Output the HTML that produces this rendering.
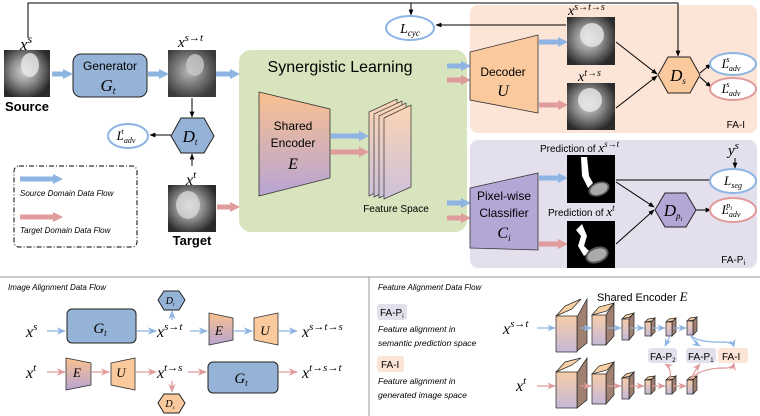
<!DOCTYPE html>
<html><head><meta charset="utf-8"><style>
html,body{margin:0;padding:0;background:#fff;}
svg{display:block;font-family:"Liberation Sans",sans-serif;}
.m{font-family:"Liberation Serif",serif;font-style:italic;}
.it{font-style:italic;}
</style></head><body>
<svg width="760" height="416" viewBox="0 0 760 416" xmlns="http://www.w3.org/2000/svg">
<defs>
<marker id="bh" viewBox="0 0 10 10" refX="1" refY="5" markerWidth="2" markerHeight="2" orient="auto"><path d="M0,0L10,5L0,10z" fill="#8DB4E2"/></marker>
<marker id="ph" viewBox="0 0 10 10" refX="1" refY="5" markerWidth="2" markerHeight="2" orient="auto"><path d="M0,0L10,5L0,10z" fill="#E09C9C"/></marker>
<marker id="k" viewBox="0 0 10 10" refX="9" refY="5" markerWidth="6" markerHeight="6" orient="auto"><path d="M0,1L10,5L0,9z" fill="#000"/></marker>
<marker id="sb" viewBox="0 0 10 10" refX="9" refY="5" markerWidth="7" markerHeight="7" orient="auto"><path d="M0,1L10,5L0,9L3,5z" fill="#8DB4E2"/></marker>
<marker id="sp" viewBox="0 0 10 10" refX="9" refY="5" markerWidth="7" markerHeight="7" orient="auto"><path d="M0,1L10,5L0,9L3,5z" fill="#E09C9C"/></marker>
<linearGradient id="enc" x1="0" y1="0" x2="0" y2="1"><stop offset="0" stop-color="#FAC08F"/><stop offset="1" stop-color="#B7A5D3"/></linearGradient>
<linearGradient id="fs" x1="0" y1="0" x2="0" y2="1"><stop offset="0" stop-color="#FCD5B4"/><stop offset="1" stop-color="#CCC0DA"/></linearGradient>
<linearGradient id="blk" x1="0" y1="0" x2="0" y2="1"><stop offset="0" stop-color="#F6CDA8"/><stop offset="1" stop-color="#C6B8D8"/></linearGradient>
<radialGradient id="mri" cx="0.45" cy="0.45" r="0.6"><stop offset="0" stop-color="#d8d8d8"/><stop offset="0.5" stop-color="#8a8a8a"/><stop offset="1" stop-color="#2a2a2a"/></radialGradient>
<radialGradient id="mri2" cx="0.45" cy="0.45" r="0.6"><stop offset="0" stop-color="#bdbdbd"/><stop offset="0.5" stop-color="#7a7a7a"/><stop offset="1" stop-color="#3a3a3a"/></radialGradient>
</defs>

<rect x="239" y="50" width="228" height="182" rx="12" fill="#D7E4BD"/>
<rect x="470" y="5" width="287" height="128" rx="8" fill="#FCE4D6"/>
<rect x="470" y="140" width="287" height="128" rx="8" fill="#E4DFEC"/>
<text x="745" y="128" font-size="10" text-anchor="end">FA-I</text>
<text x="745" y="263" font-size="10" text-anchor="end">FA-P<tspan font-size="7" dy="2">i</tspan></text>

<polyline points="28,38 28,3 678,3 678,56" fill="none" stroke="#000" stroke-width="1" marker-end="url(#k)"/>
<line x1="411" y1="3" x2="411" y2="15" stroke="#000" marker-end="url(#k)"/>
<ellipse cx="410" cy="28" rx="24" ry="12" fill="#fff" stroke="#8DB4E2" stroke-width="2"/>
<text x="410" y="33" class="m" font-size="14" text-anchor="middle">L<tspan font-size="9" dy="3">cyc</tspan></text>
<line x1="566" y1="25" x2="436" y2="25" stroke="#000" marker-end="url(#k)"/>

<text x="20" y="50" class="m" font-size="17">x<tspan font-size="12" dy="-7">s</tspan></text>
<rect x="4" y="50" width="46" height="47" fill="url(#mri)"/>
<ellipse cx="30" cy="65" rx="9" ry="12" fill="#e8e8e8" opacity="0.8"/>
<text x="27" y="111" font-size="13" font-weight="bold" text-anchor="middle">Source</text>
<line x1="52" y1="74" x2="64" y2="74" stroke="#8DB4E2" stroke-width="5" marker-end="url(#bh)"/>
<rect x="73" y="54" width="74" height="43" rx="8" fill="#95B3D7" stroke="#222" stroke-width="1"/>
<text x="110" y="70" font-size="12" text-anchor="middle">Generator</text>
<text x="108" y="91" class="m" font-size="17" text-anchor="middle">G<tspan font-size="10" dy="3">t</tspan></text>
<line x1="148" y1="74" x2="160" y2="74" stroke="#8DB4E2" stroke-width="5" marker-end="url(#bh)"/>
<text x="178" y="47" class="m" font-size="15">x<tspan font-size="11" dy="-6">s→t</tspan></text>
<rect x="168" y="50" width="48" height="47" fill="url(#mri2)"/>
<ellipse cx="195" cy="65" rx="9" ry="11" fill="#c8c8c8" opacity="0.8"/>
<line x1="216" y1="74" x2="231" y2="74" stroke="#8DB4E2" stroke-width="5" marker-end="url(#bh)"/>
<line x1="192" y1="98" x2="192" y2="117" stroke="#000" marker-end="url(#k)"/>
<polygon points="171,136 181,118 204,118 214,136 204,153 181,153" fill="#95B3D7" stroke="#222"/>
<text x="190" y="142" class="m" font-size="17" text-anchor="middle">D<tspan font-size="9" dy="3">t</tspan></text>
<line x1="171" y1="135" x2="150" y2="135" stroke="#000" marker-end="url(#k)"/>
<ellipse cx="128" cy="136" rx="20" ry="12" fill="#fff" stroke="#8DB4E2" stroke-width="2"/>
<text x="126" y="140" class="m" font-size="13" text-anchor="middle">L<tspan font-size="8" dy="3">adv</tspan><tspan font-size="8" dx="-14" dy="-9">t</tspan></text>
<line x1="192" y1="166" x2="192" y2="154" stroke="#000" marker-end="url(#k)"/>
<text x="186" y="185" class="m" font-size="16">x<tspan font-size="11" dy="-7">t</tspan></text>
<rect x="168" y="185" width="48" height="47" fill="url(#mri)"/>
<ellipse cx="188" cy="205" rx="12" ry="14" fill="#e0e0e0" opacity="0.7"/>
<text x="192" y="245" font-size="13" font-weight="bold" text-anchor="middle">Target</text>
<line x1="217" y1="207" x2="231" y2="207" stroke="#E09C9C" stroke-width="5" marker-end="url(#ph)"/>

<rect x="14" y="166" width="123" height="81" rx="5" fill="none" stroke="#000" stroke-dasharray="5,2,1,2"/>
<line x1="20" y1="179" x2="54" y2="179" stroke="#8DB4E2" stroke-width="5" marker-end="url(#bh)"/>
<text x="20" y="196" font-size="8" class="it">Source Domain Data Flow</text>
<line x1="20" y1="217" x2="54" y2="217" stroke="#E09C9C" stroke-width="5" marker-end="url(#ph)"/>
<text x="20" y="233" font-size="8" class="it">Target Domain Data Flow</text>

<text x="340" y="72" font-size="16" text-anchor="middle">Synergistic Learning</text>
<polygon points="259,92 330,109 330,178 259,196" fill="url(#enc)" stroke="#333" stroke-width="0.8"/>
<text x="293" y="130" font-size="12" text-anchor="middle">Shared</text>
<text x="293" y="147" font-size="12" text-anchor="middle">Encoder</text>
<text x="293" y="169" class="m" font-size="16" text-anchor="middle">E</text>
<line x1="331" y1="136" x2="360" y2="136" stroke="#8DB4E2" stroke-width="5" marker-end="url(#bh)"/>
<line x1="331" y1="152" x2="360" y2="152" stroke="#E09C9C" stroke-width="5" marker-end="url(#ph)"/>
<polygon points="369,112 397,99 397,181 369,196" fill="url(#fs)" stroke="#333" stroke-width="0.7"/>
<polygon points="374,114 402,101 402,183 374,197" fill="url(#fs)" stroke="#333" stroke-width="0.7"/>
<polygon points="379,116 406,103 406,185 379,198" fill="url(#fs)" stroke="#333" stroke-width="0.7"/>
<polygon points="384,118 411,105 411,187 384,199" fill="url(#fs)" stroke="#333" stroke-width="0.7"/>
<text x="396" y="212" font-size="10" text-anchor="middle">Feature Space</text>
<line x1="447" y1="66" x2="462" y2="66" stroke="#8DB4E2" stroke-width="5" marker-end="url(#bh)"/>
<line x1="447" y1="80" x2="462" y2="80" stroke="#E09C9C" stroke-width="5" marker-end="url(#ph)"/>
<line x1="447" y1="203" x2="462" y2="203" stroke="#8DB4E2" stroke-width="5" marker-end="url(#bh)"/>
<line x1="447" y1="218" x2="462" y2="218" stroke="#E09C9C" stroke-width="5" marker-end="url(#ph)"/>

<polygon points="470,52 538,35 538,113 470,100" fill="#FAC99D" stroke="#333" stroke-width="0.8"/>
<text x="503" y="76" font-size="12" text-anchor="middle">Decoder</text>
<text x="503" y="96" class="m" font-size="16" text-anchor="middle">U</text>
<line x1="539" y1="42" x2="559" y2="42" stroke="#8DB4E2" stroke-width="5" marker-end="url(#bh)"/>
<line x1="539" y1="105" x2="559" y2="105" stroke="#E09C9C" stroke-width="5" marker-end="url(#ph)"/>
<text x="568" y="15" class="m" font-size="14">x<tspan font-size="10" dy="-5">s→t→s</tspan></text>
<rect x="567" y="17" width="48" height="48" fill="url(#mri)"/>
<ellipse cx="592" cy="35" rx="12" ry="12" fill="#e8e8e8" opacity="0.8"/>
<text x="578" y="81" class="m" font-size="14">x<tspan font-size="10" dy="-5">t→s</tspan></text>
<rect x="567" y="83" width="48" height="47" fill="url(#mri)"/>
<ellipse cx="590" cy="100" rx="12" ry="12" fill="#e8e8e8" opacity="0.8"/>
<line x1="616" y1="42" x2="657" y2="74" stroke="#000" marker-end="url(#k)"/>
<line x1="616" y1="108" x2="657" y2="76" stroke="#000" marker-end="url(#k)"/>
<polygon points="658,75 668,57 690,57 700,75 690,93 668,93" fill="#FAC99D" stroke="#222"/>
<text x="678" y="81" class="m" font-size="17" text-anchor="middle">D<tspan font-size="9" dy="3">s</tspan></text>
<line x1="700" y1="73" x2="711" y2="64" stroke="#000" marker-end="url(#k)"/>
<line x1="700" y1="77" x2="711" y2="87" stroke="#000" marker-end="url(#k)"/>
<ellipse cx="733" cy="64" rx="23" ry="11" fill="#fff" stroke="#8DB4E2" stroke-width="2"/>
<text x="731" y="68" class="m" font-size="13" text-anchor="middle">L<tspan font-size="8" dy="3">adv</tspan><tspan font-size="8" dx="-14" dy="-9">s</tspan></text>
<ellipse cx="733" cy="89" rx="23" ry="11" fill="#fff" stroke="#E09C9C" stroke-width="2"/>
<text x="731" y="93" class="m" font-size="13" text-anchor="middle">L<tspan font-size="8" dy="3">adv</tspan><tspan font-size="8" dx="-14" dy="-9">s</tspan></text>

<polygon points="470,188 538,173 538,250 470,248" fill="#B4A7D6" stroke="#333" stroke-width="0.8"/>
<text x="504" y="200" font-size="12" text-anchor="middle">Pixel-wise</text>
<text x="504" y="217" font-size="12" text-anchor="middle">Classifier</text>
<text x="504" y="238" class="m" font-size="16" text-anchor="middle">C<tspan font-size="9" dy="3">i</tspan></text>
<line x1="539" y1="178" x2="559" y2="178" stroke="#8DB4E2" stroke-width="5" marker-end="url(#bh)"/>
<line x1="539" y1="244" x2="559" y2="244" stroke="#E09C9C" stroke-width="5" marker-end="url(#ph)"/>
<text x="540" y="152" font-size="10">Prediction of <tspan class="m" font-size="13">x<tspan font-size="9" dy="-5">s→t</tspan></tspan></text>
<rect x="567" y="155" width="48" height="48" fill="#000"/>
<path d="M581,157 L587,157 L589,176 L593,183 L588,188 L582,176z" fill="#fff"/>
<ellipse cx="599" cy="189" rx="11" ry="7" fill="#555" transform="rotate(-20 599 189)"/>
<ellipse cx="599" cy="189" rx="9" ry="5.5" fill="#aaa" transform="rotate(-20 599 189)"/>
<text x="548" y="216" font-size="10">Prediction of <tspan class="m" font-size="13">x<tspan font-size="9" dy="-5">t</tspan></tspan></text>
<rect x="567" y="221" width="48" height="47" fill="#000"/>
<path d="M576,230 L582,224 L587,236 L584,246 L590,252 L584,256 L578,246 L581,236z" fill="#fff"/>
<ellipse cx="597" cy="255" rx="12" ry="8" fill="#555" transform="rotate(-20 597 255)"/>
<ellipse cx="597" cy="255" rx="10" ry="6" fill="#aaa" transform="rotate(-20 597 255)"/>
<line x1="616" y1="180" x2="715" y2="180" stroke="#000" marker-end="url(#k)"/>
<line x1="616" y1="182" x2="654" y2="207" stroke="#000" marker-end="url(#k)"/>
<line x1="616" y1="244" x2="654" y2="210" stroke="#000" marker-end="url(#k)"/>
<polygon points="655,210 665,193 686,193 696,210 686,227 665,227" fill="#B4A7D6" stroke="#222"/>
<text x="673" y="216" class="m" font-size="17" text-anchor="middle">D<tspan font-size="9" dy="3">p<tspan font-size="6" dy="2">i</tspan></tspan></text>
<line x1="696" y1="210" x2="711" y2="210" stroke="#000" marker-end="url(#k)"/>
<text x="728" y="155" class="m" font-size="15">y<tspan font-size="11" dy="-6">s</tspan></text>
<line x1="735" y1="158" x2="735" y2="168" stroke="#000" marker-end="url(#k)"/>
<ellipse cx="733" cy="181" rx="23" ry="12" fill="#fff" stroke="#8DB4E2" stroke-width="2"/>
<text x="733" y="185" class="m" font-size="13" text-anchor="middle">L<tspan font-size="8" dy="3">seg</tspan></text>
<ellipse cx="733" cy="210" rx="23" ry="12" fill="#fff" stroke="#E09C9C" stroke-width="2"/>
<text x="731" y="214" class="m" font-size="13" text-anchor="middle">L<tspan font-size="8" dy="3">adv</tspan><tspan font-size="8" dx="-14" dy="-9">p</tspan><tspan font-size="6" dy="2">i</tspan></text>

<line x1="0" y1="277" x2="760" y2="277" stroke="#999"/>
<line x1="369" y1="277" x2="369" y2="416" stroke="#999"/>

<text x="8" y="290" font-size="8" class="it">Image Alignment Data Flow</text>
<text x="26" y="337" class="m" font-size="16">x<tspan font-size="11" dy="-7">s</tspan></text>
<line x1="47" y1="331" x2="65" y2="331" stroke="#8DB4E2" stroke-width="1.3" marker-end="url(#sb)"/>
<rect x="67" y="309" width="69" height="34" rx="5" fill="#95B3D7" stroke="#222"/>
<text x="100" y="333" class="m" font-size="15" text-anchor="middle">G<tspan font-size="9" dy="3">t</tspan></text>
<line x1="137" y1="331" x2="156" y2="331" stroke="#8DB4E2" stroke-width="1.3" marker-end="url(#sb)"/>
<text x="157" y="337" class="m" font-size="16">x<tspan font-size="11" dy="-7">s→t</tspan></text>
<line x1="172" y1="320" x2="172" y2="311" stroke="#8DB4E2" stroke-width="1.3" marker-end="url(#sb)"/>
<polygon points="158,300 164,291 179,291 185,300 179,310 164,310" fill="#95B3D7" stroke="#222"/>
<text x="170" y="304" class="m" font-size="10" text-anchor="middle">D<tspan font-size="5" dy="2">t</tspan></text>
<line x1="190" y1="331" x2="207" y2="331" stroke="#8DB4E2" stroke-width="1.3" marker-end="url(#sb)"/>
<polygon points="209,313 233,318 233,340 209,345" fill="url(#enc)" stroke="#333" stroke-width="0.8"/>
<text x="219" y="335" class="m" font-size="13" text-anchor="middle">E</text>
<line x1="234" y1="331" x2="252" y2="331" stroke="#8DB4E2" stroke-width="1.3" marker-end="url(#sb)"/>
<polygon points="254,318 278,313 278,345 254,340" fill="#FAC99D" stroke="#333" stroke-width="0.8"/>
<text x="265" y="335" class="m" font-size="13" text-anchor="middle">U</text>
<line x1="279" y1="331" x2="297" y2="331" stroke="#8DB4E2" stroke-width="1.3" marker-end="url(#sb)"/>
<text x="302" y="337" class="m" font-size="16">x<tspan font-size="11" dy="-7">s→t→s</tspan></text>

<text x="26" y="378" class="m" font-size="16">x<tspan font-size="11" dy="-7">t</tspan></text>
<line x1="47" y1="372" x2="65" y2="372" stroke="#E09C9C" stroke-width="1.3" marker-end="url(#sp)"/>
<polygon points="66,358 91,363 91,385 66,390" fill="url(#enc)" stroke="#333" stroke-width="0.8"/>
<text x="77" y="377" class="m" font-size="13" text-anchor="middle">E</text>
<line x1="92" y1="372" x2="109" y2="372" stroke="#E09C9C" stroke-width="1.3" marker-end="url(#sp)"/>
<polygon points="111,363 135,358 135,390 111,385" fill="#FAC99D" stroke="#333" stroke-width="0.8"/>
<text x="121" y="377" class="m" font-size="13" text-anchor="middle">U</text>
<line x1="136" y1="372" x2="156" y2="372" stroke="#E09C9C" stroke-width="1.3" marker-end="url(#sp)"/>
<text x="157" y="378" class="m" font-size="16">x<tspan font-size="11" dy="-7">t→s</tspan></text>
<line x1="172" y1="381" x2="172" y2="392" stroke="#E09C9C" stroke-width="1.3" marker-end="url(#sp)"/>
<polygon points="158,403 164,394 179,394 185,403 179,413 164,413" fill="#FAC99D" stroke="#222"/>
<text x="170" y="407" class="m" font-size="10" text-anchor="middle">D<tspan font-size="5" dy="2">s</tspan></text>
<line x1="188" y1="372" x2="206" y2="372" stroke="#E09C9C" stroke-width="1.3" marker-end="url(#sp)"/>
<rect x="208" y="362" width="70" height="31" rx="5" fill="#95B3D7" stroke="#222"/>
<text x="241" y="383" class="m" font-size="15" text-anchor="middle">G<tspan font-size="9" dy="3">t</tspan></text>
<line x1="279" y1="372" x2="297" y2="372" stroke="#E09C9C" stroke-width="1.3" marker-end="url(#sp)"/>
<text x="302" y="378" class="m" font-size="16">x<tspan font-size="11" dy="-7">t→s→t</tspan></text>

<text x="378" y="290" font-size="8" class="it">Feature Alignment Data Flow</text>
<rect x="377" y="304" width="30" height="16" rx="3" fill="#E4DFEC"/>
<text x="380" y="316" font-size="10">FA-P<tspan font-size="6" dy="2">i</tspan></text>
<text x="378" y="332" font-size="8.5" class="it">Feature alignment in</text>
<text x="378" y="346" font-size="8.5" class="it">semantic prediction space</text>
<rect x="377" y="356" width="27" height="16" rx="3" fill="#FCE4D6"/>
<text x="381" y="368" font-size="10">FA-I</text>
<text x="378" y="384" font-size="8.5" class="it">Feature alignment in</text>
<text x="378" y="398" font-size="8.5" class="it">generated image space</text>
<text x="597" y="301" font-size="11">Shared Encoder <tspan class="m" font-size="13">E</tspan></text>

<text x="503" y="334" class="m" font-size="16">x<tspan font-size="11" dy="-7">s→t</tspan></text>
<text x="516" y="391" class="m" font-size="16">x<tspan font-size="11" dy="-7">t</tspan></text>

<g stroke="#222" stroke-width="0.7">
<polygon points="556,316 565,306 581,299 572,309" fill="#F9CFA5"/><polygon points="577,317 587,299 587,343 577,351" fill="#a08070"/><rect x="556" y="316" width="21" height="36" fill="url(#blk)"/>
<polygon points="592,315 599,307 614,303 607,311" fill="#F9CFA5"/><polygon points="606,315 614,303 614,336 606,345" fill="#a08070"/><rect x="592" y="315" width="14" height="30" fill="url(#blk)"/>
<polygon points="622,319 626,315 634,313 630,317" fill="#F9CFA5"/><polygon points="629,319 634,313 634,334 629,340" fill="#a08070"/><rect x="622" y="319" width="7" height="21" fill="url(#blk)"/>
<polygon points="645,322 648,319 655,318 652,321" fill="#F9CFA5"/><polygon points="651,322 655,318 655,332 651,336" fill="#a08070"/><rect x="645" y="322" width="6" height="14" fill="url(#blk)"/>
<polygon points="666,322 669,319 676,318 673,321" fill="#F9CFA5"/><polygon points="672,322 676,318 676,332 672,336" fill="#a08070"/><rect x="666" y="322" width="6" height="14" fill="url(#blk)"/>
<polygon points="687,321 690,318 697,317 694,320" fill="#F9CFA5"/><polygon points="693,321 697,317 697,331 693,335" fill="#a08070"/><rect x="687" y="321" width="6" height="14" fill="url(#blk)"/>
<polygon points="556,372 565,362 581,358 572,365" fill="#F9CFA5"/><polygon points="577,373 587,358 587,400 577,408" fill="#a08070"/><rect x="556" y="372" width="21" height="36" fill="url(#blk)"/>
<polygon points="592,374 599,366 614,362 607,370" fill="#F9CFA5"/><polygon points="606,374 614,362 614,395 606,404" fill="#a08070"/><rect x="592" y="374" width="14" height="30" fill="url(#blk)"/>
<polygon points="622,378 626,374 634,372 630,376" fill="#F9CFA5"/><polygon points="629,378 634,372 634,393 629,399" fill="#a08070"/><rect x="622" y="378" width="7" height="21" fill="url(#blk)"/>
<polygon points="645,380 648,377 655,376 652,379" fill="#F9CFA5"/><polygon points="651,380 655,376 655,390 651,394" fill="#a08070"/><rect x="645" y="380" width="6" height="14" fill="url(#blk)"/>
<polygon points="666,380 669,377 676,376 673,379" fill="#F9CFA5"/><polygon points="672,380 676,376 676,390 672,394" fill="#a08070"/><rect x="666" y="380" width="6" height="14" fill="url(#blk)"/>
<polygon points="687,380 690,377 697,376 694,379" fill="#F9CFA5"/><polygon points="693,380 697,376 697,390 693,394" fill="#a08070"/><rect x="687" y="380" width="6" height="14" fill="url(#blk)"/>
</g>
<g stroke="#8DB4E2" stroke-width="1.2" fill="none">
<line x1="537" y1="328" x2="555" y2="328" marker-end="url(#sb)"/>
<line x1="580" y1="328" x2="591" y2="328" marker-end="url(#sb)"/>
<line x1="607" y1="328" x2="621" y2="328" marker-end="url(#sb)"/>
<line x1="630" y1="328" x2="644" y2="328" marker-end="url(#sb)"/>
<line x1="652" y1="328" x2="665" y2="328" marker-end="url(#sb)"/>
<line x1="673" y1="328" x2="686" y2="328" marker-end="url(#sb)"/>
<path d="M670,336 L665,346" marker-end="url(#sb)"/>
<path d="M691,336 Q695,343 700,346" marker-end="url(#sb)"/>
<path d="M691,336 Q700,343 725,342 Q733,343 734,347" marker-end="url(#sb)"/>
</g>
<g stroke="#E09C9C" stroke-width="1.2" fill="none">
<line x1="537" y1="386" x2="555" y2="386" marker-end="url(#sp)"/>
<line x1="580" y1="386" x2="591" y2="386" marker-end="url(#sp)"/>
<line x1="607" y1="386" x2="621" y2="386" marker-end="url(#sp)"/>
<line x1="630" y1="386" x2="644" y2="386" marker-end="url(#sp)"/>
<line x1="652" y1="386" x2="665" y2="386" marker-end="url(#sp)"/>
<line x1="673" y1="386" x2="686" y2="386" marker-end="url(#sp)"/>
<path d="M670,379 Q672,368 665,364" marker-end="url(#sp)"/>
<path d="M691,379 Q695,370 700,364" marker-end="url(#sp)"/>
<path d="M691,379 Q700,368 725,368 Q733,368 734,363" marker-end="url(#sp)"/>
</g>
<rect x="648" y="348" width="29" height="15" rx="3" fill="#E4DFEC"/>
<text x="650" y="360" font-size="10">FA-P<tspan font-size="6" dy="2">2</tspan></text>
<rect x="686" y="348" width="30" height="15" rx="3" fill="#E4DFEC"/>
<text x="688" y="360" font-size="10">FA-P<tspan font-size="6" dy="2">1</tspan></text>
<rect x="718" y="348" width="30" height="15" rx="3" fill="#FCE4D6"/>
<text x="722" y="360" font-size="10">FA-I</text>
</svg>
</body></html>
